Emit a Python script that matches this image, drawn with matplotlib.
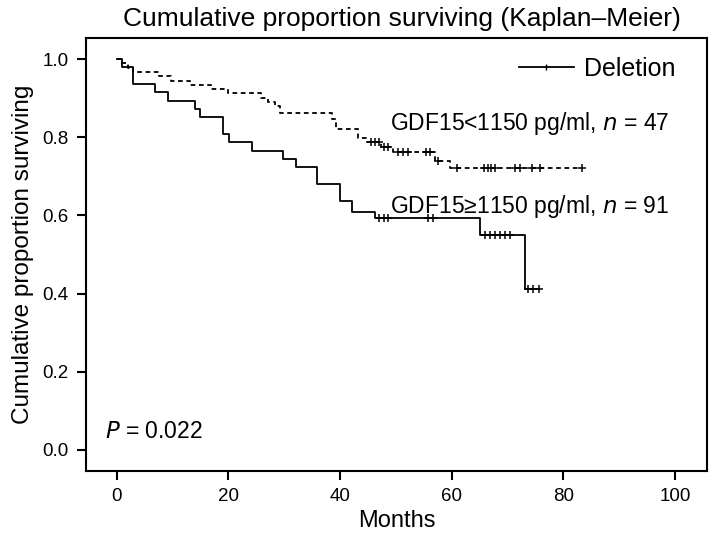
import numpy as np
import matplotlib
matplotlib.use("Agg")
import matplotlib.pyplot as plt
from matplotlib.lines import Line2D

plt.rcParams['font.family'] = ['Liberation Sans', 'DejaVu Sans']

# upper (dashed) curve: step times (months) and survival after each step
low_t = [0, 1.0, 2.0, 3.0, 7.5, 9.8, 13.1, 16.9, 20.0, 25.8, 27.0, 28.3, 29.2,
         38.5, 39.3, 43.2, 44.9, 47.4, 49.5, 57.0, 59.7]
low_s = [1.0, 0.989, 0.978, 0.967, 0.956, 0.945, 0.934, 0.923, 0.912, 0.901, 0.890,
         0.879, 0.862, 0.846, 0.820, 0.799, 0.788, 0.775, 0.762, 0.739, 0.721]
low_cens = [45.5, 46.2, 46.9, 47.9, 48.6, 50.4, 51.3, 52.2, 55.4, 56.1, 57.6,
            60.9, 65.8, 66.4, 67.0, 67.8, 71.3, 72.2, 74.3, 75.8, 83.3]

# lower (solid) curve
high_t = [0, 1.0, 3.0, 6.8, 9.2, 14.0, 15.0, 19.0, 20.1, 24.2, 29.8, 32.1, 35.9,
          40.0, 42.1, 46.3, 65.1, 73.1]
high_s = [1.0, 0.979, 0.937, 0.915, 0.894, 0.872, 0.851, 0.809, 0.787, 0.766, 0.745,
          0.723, 0.681, 0.638, 0.608, 0.593, 0.549, 0.411]
high_cens = [47.0, 47.8, 48.6, 55.8, 56.7, 66.0, 66.9, 67.8, 68.7, 69.6, 70.5,
             73.6, 74.6, 75.6]

xticks = [0, 20, 40, 60, 80, 100]
yticks = [0.0, 0.2, 0.4, 0.6, 0.8, 1.0]


def km_line(ax, t, s, cens, ls):
    t = np.array(t)
    s = np.array(s)
    cens = np.array(cens)
    tt = np.append(t, cens.max())
    ss = np.append(s, s[-1])
    ax.step(tt, ss, where='post', color='black', lw=1.3, linestyle=ls)
    cy = s[np.searchsorted(t, cens, side='right') - 1]
    ax.plot(cens, cy, linestyle='none', marker='+', color='black',
            markersize=6, markeredgewidth=1.1)


fig = plt.figure(figsize=(7.09, 5.36), dpi=100)
ax = fig.add_axes([0.1213, 0.1213, 0.8759, 0.8078])

km_line(ax, low_t, low_s, low_cens, (0, (2.6, 2)))
km_line(ax, high_t, high_s, high_cens, '-')

ax.set_xlim(-5.5, 105.7)
ax.set_ylim(-0.054, 1.054)
ax.set_xticks(xticks)
ax.set_yticks(yticks)
ax.set_yticklabels([f"{v:.1f}" for v in yticks])
ax.tick_params(direction='out', length=6.5, width=1.5, labelsize=13.5, pad=6)
for sp in ax.spines.values():
    sp.set_linewidth(1.5)

ax.set_xlabel("Months", fontsize=17, labelpad=3)
ax.set_ylabel("Cumulative proportion surviving", fontsize=17.5, labelpad=6)
fig.text(0.567, 0.965, "Cumulative proportion surviving (Kaplan\u2013Meier)",
         ha='center', va='center', fontsize=19)

ax.text(49, 0.836, r"GDF15<1150 pg/ml, $\it{n}$ = 47", fontsize=16.5, va='center')
ax.text(49, 0.624, "GDF15\u22651150 pg/ml, $\\it{n}$ = 91", fontsize=16.5, va='center')
ax.text(-2.1, 0.046, r"$\it{P}$ = 0.022", fontsize=16.5, va='center')

handle = Line2D([], [], color='black', lw=1.3, marker='|', markersize=4)
ax.legend([handle], ["Deletion"], loc='upper right', bbox_to_anchor=(0.985, 1.008),
          frameon=False, handlelength=2.2, handletextpad=0.4,
          prop={'size': 18})

fig.savefig("out.png", dpi=100)
